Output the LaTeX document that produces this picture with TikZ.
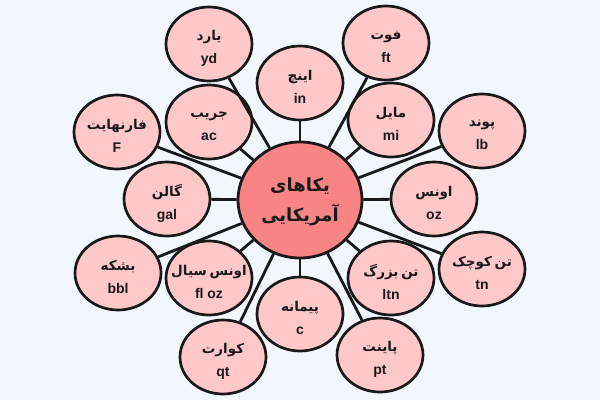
\documentclass[tikz,border=0pt]{standalone}
\usepackage{fontspec}
\setmainfont{Liberation Sans}
\newfontfamily\fa[Script=Arabic,WordSpace=0.6]{DejaVu Sans}
\TeXXeTstate=1
\usetikzlibrary{shapes.geometric}
\definecolor{bg}{RGB}{241,247,253}
\definecolor{pinkfill}{RGB}{255,200,200}
\definecolor{centerfill}{RGB}{249,132,132}
\definecolor{ink}{RGB}{25,25,25}
\tikzset{
  unit/.style={ellipse, draw=ink, line width=2.7pt, fill=pinkfill, minimum width=86pt, minimum height=74pt, inner sep=0pt},
  utext/.style={inner sep=0pt, align=center, font=\bfseries\fontsize{14}{23}\selectfont, text=ink},
  hub/.style={ellipse, draw=ink, line width=2.8pt, fill=centerfill, minimum width=124pt, minimum height=116pt, inner sep=0pt},
  htext/.style={inner sep=0pt, align=center, font=\bfseries\fontsize{18}{30}\selectfont, text=ink},
  link/.style={draw=ink, line width=2.8pt}
}
\newcommand\fatxt{\fa\fontsize{13.5}{23}\selectfont}
\newcommand\unitnode[4]{%
  \node[unit] (#1) at (#2) {};
  \node[utext] (#1-t) at ([yshift=-4pt]#1.center) {{\fatxt #3}\\ #4};}
\begin{document}
\begin{tikzpicture}[x=1pt,y=-1pt]
\fill[bg] (0,0) rectangle (600,400);
\useasboundingbox (0,0) rectangle (600,400);
\node[hub] (hub) at (300,200) {};
\node[htext] (hub-t) at ([yshift=-2pt]hub.center) {{\fa\beginR یکاهای\endR}\\{\fa\beginR آمریکایی\endR}};
\unitnode{yd}{209,44}{\beginR یارد\endR}{yd}
\unitnode{ac}{209,122}{\beginR جریب\endR}{ac}
\unitnode{F}{117,132}{\beginR فارنهایت\endR}{F}
\unitnode{in}{300,83}{\beginR اینچ\endR}{in}
\unitnode{ft}{386,43}{\beginR فوت\endR}{ft}
\unitnode{mi}{391,120}{\beginR مایل\endR}{mi}
\unitnode{lb}{482,131}{\beginR پوند\endR}{lb}
\unitnode{oz}{434,199}{\beginR اونس\endR}{oz}
\unitnode{gal}{167,199}{\beginR گالن\endR}{gal}
\unitnode{bbl}{118,273}{\beginR بشکه\endR}{bbl}
\unitnode{floz}{209,278}{\beginR اونس سیال\endR}{fl oz}
\unitnode{qt}{223,357}{\beginR کوارت\endR}{qt}
\unitnode{c}{300,314}{\beginR پیمانه\endR}{c}
\unitnode{ltn}{391,278}{\beginR تن بزرگ\endR}{ltn}
\unitnode{tn}{482,269}{\beginR تن کوچک\endR}{tn}
\unitnode{pt}{380,355}{\beginR پاینت\endR}{pt}
\foreach \n in {yd,ac,F,in,ft,mi,lb,oz,gal,bbl,floz,qt,c,ltn,tn,pt}
  \draw[link] (hub) -- (\n);
\end{tikzpicture}
\end{document}
